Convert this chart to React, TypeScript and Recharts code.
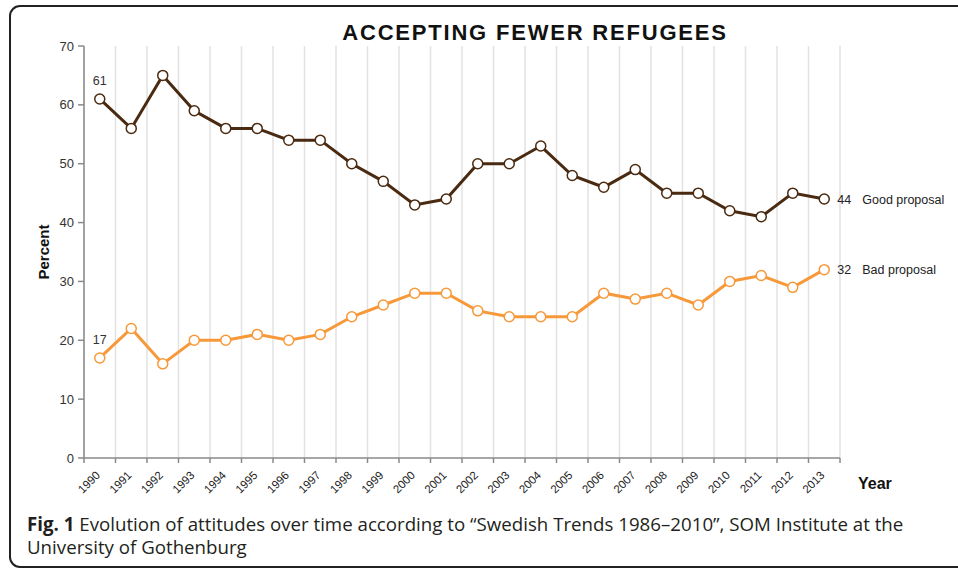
import { LineChart, Line, XAxis, YAxis, CartesianGrid, LabelList } from 'recharts'

// Swedish Trends survey, share of respondents (%) by year
const years = [
  '1990', '1991', '1992', '1993', '1994', '1995', '1996', '1997', '1998', '1999', '2000', '2001',
  '2002', '2003', '2004', '2005', '2006', '2007', '2008', '2009', '2010', '2011', '2012', '2013',
]
const goodProposal = [61, 56, 65, 59, 56, 56, 54, 54, 50, 47, 43, 44, 50, 50, 53, 48, 46, 49, 45, 45, 42, 41, 45, 44]
const badProposal = [17, 22, 16, 20, 20, 21, 20, 21, 24, 26, 28, 28, 25, 24, 24, 24, 28, 27, 28, 26, 30, 31, 29, 32]
const yTicks = [0, 10, 20, 30, 40, 50, 60, 70]

const GOOD = '#4a2a10'
const BAD = '#f7993a'
const AXIS = '#8a8a8a'
const SANS = '"Liberation Sans", Arial, sans-serif'

const data = years.map((year, i) => ({ i, year, good: goodProposal[i], bad: badProposal[i] }))
const labelTicks = years.map((_, i) => i)
// band edges, used for the grid lines and the tick marks
const edgeTicks = [...years.map((_, i) => i - 0.5), years.length - 0.5]

const YearTick = (props: any) => {
  const { x, y, payload } = props
  const ax = x + 1
  const ay = y + 17
  return (
    <text x={ax} y={ay} transform={`rotate(-45, ${ax}, ${ay})`} textAnchor="end" fontSize={11.5} fill="#222" fontFamily={SANS}>
      {years[payload.value]}
    </text>
  )
}

const endLabels = (name: string) => (props: any) => {
  const { x, y, value, index } = props
  if (index === 0) {
    return (
      <text x={x} y={y - 14} textAnchor="middle" fontSize={12.5} fill="#333" fontFamily={SANS}>
        {value}
      </text>
    )
  }
  if (index === years.length - 1) {
    return (
      <g fontSize={12.5} fill="#222" fontFamily={SANS}>
        <text x={x + 13} y={y + 4.5}>{value}</text>
        <text x={x + 38} y={y + 4.5}>{name}</text>
      </g>
    )
  }
  return null
}

export default function App() {
  return (
    <div style={{ position: 'fixed', left: 0, top: 0, width: 958, height: 569, overflow: 'hidden', background: '#fff' }}>
      <div
        style={{
          position: 'absolute', left: 9, top: 5, width: 1000, height: 559,
          border: '2px solid #222', borderRadius: 11,
        }}
      />
      <div
        style={{
          position: 'absolute', left: 535, top: 22, transform: 'translateX(-50%)', whiteSpace: 'nowrap',
          fontFamily: SANS, fontWeight: 'bold', fontSize: 22, lineHeight: '21px', letterSpacing: '1.8px', color: '#111',
        }}
      >
        ACCEPTING FEWER REFUGEES
      </div>
      <div
        style={{
          position: 'absolute', left: 42.5, top: 252, transform: 'translate(-50%, -50%) rotate(-90deg)',
          whiteSpace: 'nowrap', fontFamily: SANS, fontWeight: 'bold', fontSize: 15, lineHeight: '15px', color: '#111',
        }}
      >
        Percent
      </div>
      <div
        style={{
          position: 'absolute', left: 858, top: 476, whiteSpace: 'nowrap',
          fontFamily: SANS, fontWeight: 'bold', fontSize: 16, lineHeight: '15px', color: '#111',
        }}
      >
        Year
      </div>
      <div style={{ position: 'absolute', left: 0, top: 0 }}>
        <LineChart width={958} height={500} data={data} margin={{ top: 46, right: 118, left: 0, bottom: 0 }}>
          <CartesianGrid xAxisId="grid" horizontal={false} stroke="#e2e2e2" strokeWidth={1.5} />
          <XAxis
            xAxisId="grid"
            dataKey="i"
            type="number"
            domain={[-0.5, years.length - 0.5]}
            ticks={edgeTicks}
            interval={0}
            height={1}
            tickSize={5}
            tick={() => <g />}
            axisLine={{ stroke: AXIS, strokeWidth: 1.5 }}
            tickLine={{ stroke: AXIS, strokeWidth: 1.5 }}
            allowDataOverflow
          />
          <XAxis
            xAxisId="lab"
            dataKey="i"
            type="number"
            domain={[-0.5, years.length - 0.5]}
            ticks={labelTicks}
            interval={0}
            height={41}
            tickSize={0}
            tickMargin={0}
            axisLine={false}
            tickLine={false}
            tick={<YearTick />}
            allowDataOverflow
          />
          <YAxis
            width={84}
            domain={[0, 70]}
            ticks={yTicks}
            interval={0}
            tickSize={6}
            tickMargin={4}
            axisLine={{ stroke: AXIS, strokeWidth: 1.5 }}
            tickLine={{ stroke: AXIS, strokeWidth: 1.5 }}
            tick={{ fontSize: 13, fill: '#333', fontFamily: SANS }}
          />
          <Line
            xAxisId="lab"
            dataKey="good"
            stroke={GOOD}
            strokeWidth={3}
            dot={{ r: 5, fill: '#fff', stroke: GOOD, strokeWidth: 1.5 }}
            isAnimationActive={false}
          >
            <LabelList dataKey="good" content={endLabels('Good proposal')} />
          </Line>
          <Line
            xAxisId="lab"
            dataKey="bad"
            stroke={BAD}
            strokeWidth={3}
            dot={{ r: 5, fill: '#fff', stroke: BAD, strokeWidth: 1.5 }}
            isAnimationActive={false}
          >
            <LabelList dataKey="bad" content={endLabels('Bad proposal')} />
          </Line>
        </LineChart>
      </div>
      <div
        style={{
          position: 'absolute', left: 27, top: 512, fontFamily: '"Open Sans", sans-serif',
          fontSize: 18.7, lineHeight: '23px', color: '#231f20', whiteSpace: 'nowrap',
        }}
      >
        <b>Fig. 1</b> Evolution of attitudes over time according to “Swedish Trends 1986–2010”, SOM Institute at the
        <br />
        University of Gothenburg
      </div>
    </div>
  )
}
